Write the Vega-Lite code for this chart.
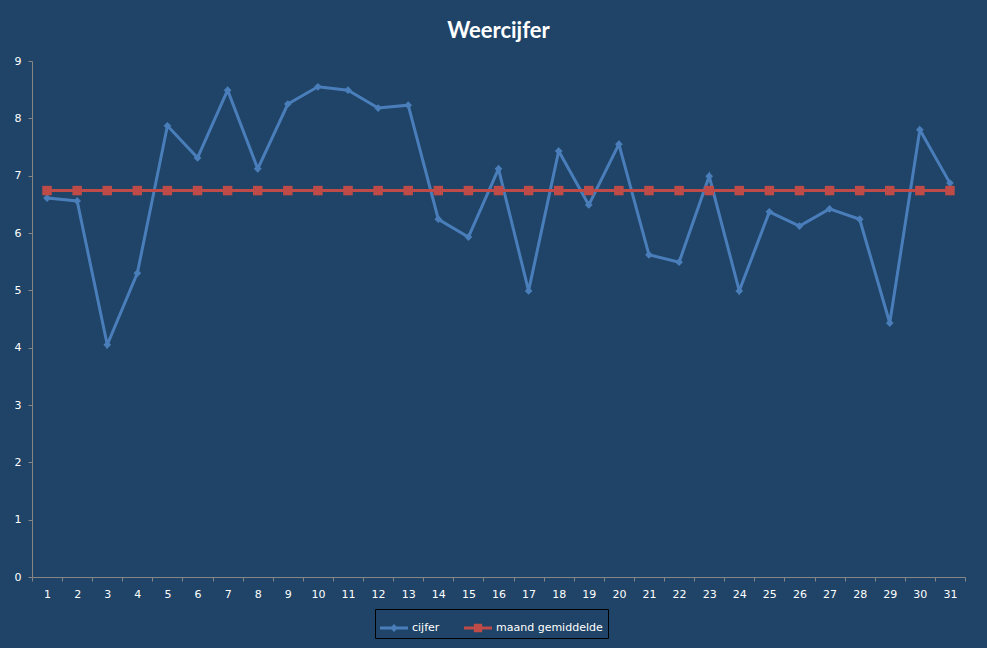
{
  "$schema": "https://vega.github.io/schema/vega-lite/v6.json",
  "width": 933,
  "height": 516,
  "autosize": {"type": "none"},
  "padding": {"left": 32, "top": 61, "right": 22, "bottom": 71},
  "background": "#1F4467",
  "title": {
    "text": "Weercijfer",
    "font": "Lato",
    "fontSize": 22,
    "fontWeight": "bold",
    "color": "#FFFFFF",
    "offset": 12
  },
  "config": {
    "view": {"stroke": null},
    "axis": {
      "domainColor": "#868686",
      "tickColor": "#868686",
      "tickSize": 4,
      "labelColor": "#FFFFFF",
      "labelFont": "DejaVu Sans",
      "labelFontSize": 11,
      "grid": false,
      "title": null
    }
  },
  "data": {
    "values": [
      {"dag": 1, "cijfer": 6.61, "maand gemiddelde": 6.74},
      {"dag": 2, "cijfer": 6.56, "maand gemiddelde": 6.74},
      {"dag": 3, "cijfer": 4.05, "maand gemiddelde": 6.74},
      {"dag": 4, "cijfer": 5.30, "maand gemiddelde": 6.74},
      {"dag": 5, "cijfer": 7.87, "maand gemiddelde": 6.74},
      {"dag": 6, "cijfer": 7.31, "maand gemiddelde": 6.74},
      {"dag": 7, "cijfer": 8.49, "maand gemiddelde": 6.74},
      {"dag": 8, "cijfer": 7.12, "maand gemiddelde": 6.74},
      {"dag": 9, "cijfer": 8.25, "maand gemiddelde": 6.74},
      {"dag": 10, "cijfer": 8.55, "maand gemiddelde": 6.74},
      {"dag": 11, "cijfer": 8.49, "maand gemiddelde": 6.74},
      {"dag": 12, "cijfer": 8.18, "maand gemiddelde": 6.74},
      {"dag": 13, "cijfer": 8.23, "maand gemiddelde": 6.74},
      {"dag": 14, "cijfer": 6.24, "maand gemiddelde": 6.74},
      {"dag": 15, "cijfer": 5.93, "maand gemiddelde": 6.74},
      {"dag": 16, "cijfer": 7.12, "maand gemiddelde": 6.74},
      {"dag": 17, "cijfer": 4.99, "maand gemiddelde": 6.74},
      {"dag": 18, "cijfer": 7.43, "maand gemiddelde": 6.74},
      {"dag": 19, "cijfer": 6.49, "maand gemiddelde": 6.74},
      {"dag": 20, "cijfer": 7.55, "maand gemiddelde": 6.74},
      {"dag": 21, "cijfer": 5.62, "maand gemiddelde": 6.74},
      {"dag": 22, "cijfer": 5.49, "maand gemiddelde": 6.74},
      {"dag": 23, "cijfer": 6.99, "maand gemiddelde": 6.74},
      {"dag": 24, "cijfer": 4.99, "maand gemiddelde": 6.74},
      {"dag": 25, "cijfer": 6.37, "maand gemiddelde": 6.74},
      {"dag": 26, "cijfer": 6.12, "maand gemiddelde": 6.74},
      {"dag": 27, "cijfer": 6.42, "maand gemiddelde": 6.74},
      {"dag": 28, "cijfer": 6.24, "maand gemiddelde": 6.74},
      {"dag": 29, "cijfer": 4.43, "maand gemiddelde": 6.74},
      {"dag": 30, "cijfer": 7.80, "maand gemiddelde": 6.74},
      {"dag": 31, "cijfer": 6.87, "maand gemiddelde": 6.74}
    ]
  },
  "transform": [
    {"fold": ["cijfer", "maand gemiddelde"], "as": ["reeks", "waarde"]}
  ],
  "encoding": {
    "x": {
      "field": "dag",
      "type": "ordinal",
      "sort": "ascending",
      "scale": {"type": "band", "paddingInner": 0, "paddingOuter": 0},
      "axis": {"labelAngle": 0, "tickBand": "extent", "labelPadding": 7}
    },
    "y": {
      "field": "waarde",
      "type": "quantitative",
      "scale": {"domain": [0, 9], "nice": false},
      "axis": {"values": [0, 1, 2, 3, 4, 5, 6, 7, 8, 9], "labelPadding": 7}
    },
    "color": {
      "field": "reeks",
      "type": "nominal",
      "scale": {"domain": ["cijfer", "maand gemiddelde"], "range": ["#4A7EBB", "#BE4B48"]},
      "legend": {
        "orient": "none",
        "legendX": 343,
        "legendY": 548,
        "direction": "horizontal",
        "title": null,
        "strokeColor": "#000000",
        "padding": 5,
        "labelColor": "#FFFFFF",
        "labelFont": "DejaVu Sans",
        "labelFontSize": 11,
        "labelOffset": 4,
        "columnPadding": 24,
        "symbolType": "M-1,-0.11H1V0.11H-1Z M0,-0.28L0.28,0L0,0.28L-0.28,0Z",
        "symbolSize": 784,
        "symbolStrokeWidth": 0,
        "symbolOpacity": 1,
        "encoding": {
          "symbols": {
            "shape": {"value": {"expr": "datum.value === 'cijfer' ? 'M-1,-0.11H1V0.11H-1Z M0,-0.28L0.28,0L0,0.28L-0.28,0Z' : 'M-1,-0.11H1V0.11H-1Z M-0.3,-0.3H0.3V0.3H-0.3Z'"}},
            "fill": {"value": {"expr": "datum.value === 'cijfer' ? '#4A7EBB' : '#BE4B48'"}}
          }
        }
      }
    }
  },
  "layer": [
    {
      "mark": {"type": "line", "strokeWidth": 3}
    },
    {
      "transform": [{"filter": "datum.reeks === 'cijfer'"}],
      "mark": {"type": "point", "filled": true, "opacity": 1, "shape": "diamond", "size": 60}
    },
    {
      "transform": [{"filter": "datum.reeks === 'maand gemiddelde'"}],
      "mark": {"type": "point", "filled": true, "opacity": 1, "shape": "square", "size": 90}
    }
  ]
}
